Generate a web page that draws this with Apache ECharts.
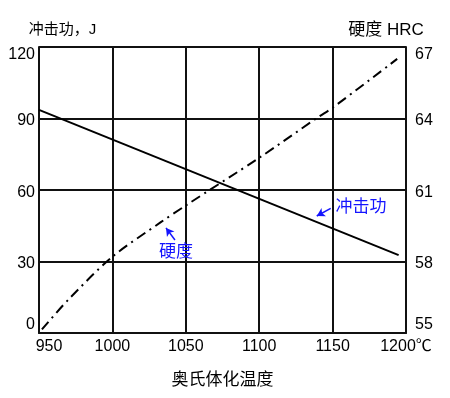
<!DOCTYPE html>
<html>
<head>
<meta charset="utf-8">
<script src="https://cdn.jsdelivr.net/npm/echarts@6/dist/echarts.min.js"></script>
<style>
  html, body { margin: 0; padding: 0; background: #fff; }
  #main { width: 450px; height: 398px; }
</style>
</head>
<body>
<div id="main"></div>
<script>
// 冲击功 (J) vs 奥氏体化温度
var impactTemp = [950, 1195];
var impactVal = [93.6, 32.7];
// 硬度 HRC vs 温度
var hardTemp = [952, 970, 1000, 1033, 1050, 1100, 1140, 1150, 1194];
var hardVal = [55.15, 56.4, 58.2, 59.65, 60.35, 62.35, 64.05, 64.45, 66.5];
// 刻度
var xTicks = [950, 1000, 1050, 1100, 1150, 1200];
var leftTicks = [0, 30, 60, 90, 120];
var rightTicks = [55, 58, 61, 64, 67];

var font = '"Liberation Sans", Arial, "Noto Sans CJK SC", sans-serif';
var blue = '#1414ff';

var chart = echarts.init(document.getElementById('main'));

// 上下两端的刻度文字错位一点，和原图一样
function yLabel(ticks) {
  return function (v) {
    if (v === ticks[ticks.length - 1]) return '{t|' + v + '}';
    if (v === ticks[0]) return '{b|' + v + '}';
    return '{m|' + v + '}';
  };
}
var yRich = {
  t: { padding: [16, 0, 0, 0], fontSize: 16, fontFamily: font, color: '#000' },
  b: { padding: [0, 0, 16, 0], fontSize: 16, fontFamily: font, color: '#000' },
  m: { padding: [5, 0, 0, 0], fontSize: 16, fontFamily: font, color: '#000' }
};

var option = {
  animation: false,
  backgroundColor: '#fff',
  grid: { left: 39, right: 44, top: 47, bottom: 65 },
  xAxis: {
    type: 'value',
    min: xTicks[0],
    max: xTicks[xTicks.length - 1],
    interval: 50,
    name: '奥氏体化温度',
    nameLocation: 'middle',
    nameGap: 39,
    nameTextStyle: { fontSize: 17, fontFamily: font, color: '#000' },
    axisLine: { show: true, lineStyle: { color: '#111', width: 2 } },
    axisTick: { show: false },
    splitLine: { show: true, lineStyle: { color: '#111', width: 2 } },
    axisLabel: {
      margin: 6,
      formatter: function (v) {
        if (v === xTicks[0]) return '{f|' + v + '}';
        if (v === xTicks[xTicks.length - 1]) return '{n|' + v + '℃}';
        return '{n|' + v + '}';
      },
      rich: {
        f: { padding: [0, 0, 0, 20], fontSize: 16, fontFamily: font, color: '#000' },
        n: { fontSize: 16, fontFamily: font, color: '#000' }
      }
    }
  },
  yAxis: [
    {
      type: 'value',
      min: 0, max: 120, interval: 30,
      name: '冲击功，J',
      nameLocation: 'end',
      nameGap: 17,
      nameTextStyle: { fontSize: 15, fontFamily: font, color: '#000', align: 'center', verticalAlign: 'middle', padding: [0, 0, 0, 47] },
      axisLine: { show: true, lineStyle: { color: '#111', width: 2 } },
      axisTick: { show: false },
      splitLine: { show: true, lineStyle: { color: '#111', width: 2 } },
      axisLabel: { margin: 4, formatter: yLabel(leftTicks), rich: yRich }
    },
    {
      type: 'value',
      min: 55, max: 67, interval: 3,
      name: '硬度 HRC',
      nameLocation: 'end',
      nameGap: 17,
      nameTextStyle: { fontSize: 17, fontFamily: font, color: '#000', align: 'center', verticalAlign: 'middle', padding: [0, 40, 0, 0] },
      axisLine: { show: true, lineStyle: { color: '#111', width: 2 } },
      axisTick: { show: false },
      splitLine: { show: false },
      axisLabel: { margin: 9, formatter: yLabel(rightTicks), rich: yRich }
    }
  ],
  series: [
    {
      name: '冲击功',
      type: 'line',
      yAxisIndex: 0,
      symbol: 'none',
      data: impactTemp.map(function (t, i) { return [t, impactVal[i]]; }),
      lineStyle: { color: '#000', width: 2 },
      markLine: {
        silent: true,
        symbol: ['none', 'arrow'],
        symbolSize: [7, 8],
        lineStyle: { color: blue, width: 1.5, type: 'solid' },
        label: { show: false },
        data: [[{ coord: [1148.7, 52.3] }, { coord: [1139.2, 49.1] }]]
      },
      markPoint: {
        silent: true,
        symbol: 'circle',
        symbolSize: 0,
        label: { show: true, formatter: '冲击功', fontSize: 17, fontFamily: font, color: blue, position: 'inside' },
        data: [{ coord: [1169.3, 52.8] }]
      }
    },
    {
      name: '硬度',
      type: 'line',
      yAxisIndex: 1,
      symbol: 'none',
      smooth: 0.3,
      data: hardTemp.map(function (t, i) { return [t, hardVal[i]]; }),
      lineStyle: { color: '#000', width: 2, type: [10, 5, 2, 5] },
      markLine: {
        silent: true,
        symbol: ['none', 'arrow'],
        symbolSize: [7, 8],
        lineStyle: { color: blue, width: 1.5, type: 'solid' },
        label: { show: false },
        data: [[{ coord: [1042.6, 58.9] }, { coord: [1036.5, 59.41] }]]
      },
      markPoint: {
        silent: true,
        symbol: 'circle',
        symbolSize: 0,
        label: { show: true, formatter: '硬度', fontSize: 17, fontFamily: font, color: blue, position: 'inside' },
        data: [{ coord: [1043.3, 58.4] }]
      }
    }
  ]
};

chart.setOption(option);
window.onresize = chart.resize;
</script>
</body>
</html>
